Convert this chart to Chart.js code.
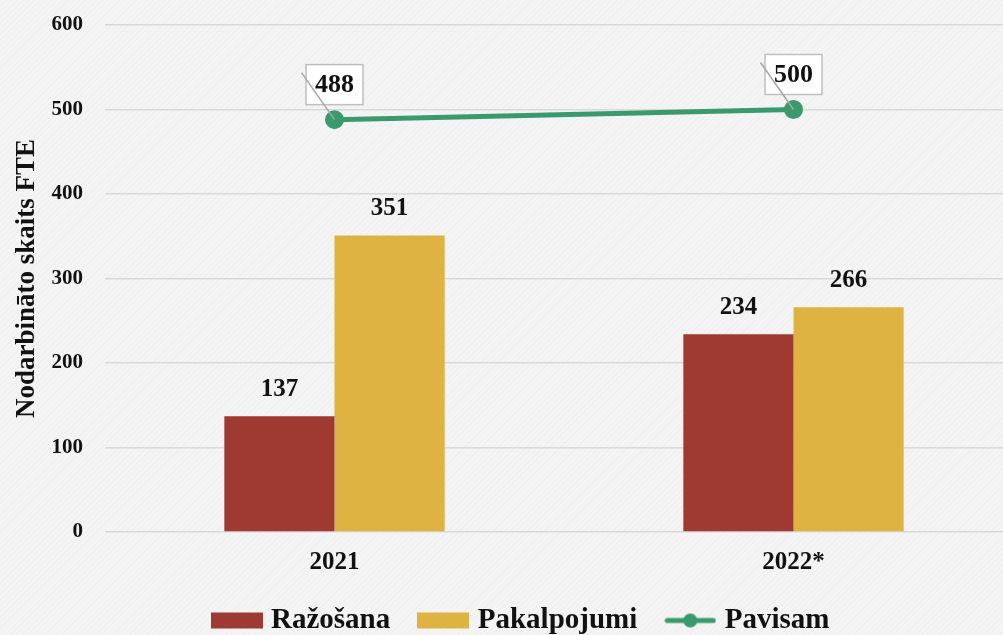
<!DOCTYPE html>
<html>
<head>
<meta charset="utf-8">
<script src="https://cdn.jsdelivr.net/npm/chart.js@4"></script>
<style>
  html, body { margin: 0; padding: 0; overflow: hidden; }
  body {
    width: 1003px; height: 635px;
    background-color: #f4f4f4;
    background-image: repeating-linear-gradient(135deg, rgba(0,0,0,0.018) 0 1px, transparent 1px 4px);
  }
  #wrap { width: 1035px; height: 635px; position: relative; }
</style>
</head>
<body>
<div id="wrap"><canvas id="grafiks"></canvas></div>
<script>
const kategorijas = ['2021', '2022*'];
const razosana = [137, 234];
const pakalpojumi = [351, 266];
const pavisam = [488, 500];
const asuTicks = [0, 100, 200, 300, 400, 500, 600];

const krasas = ['#9f3a33', '#dfb341', '#3a9a6c'];
const fonts = '"Liberation Serif", "DejaVu Serif", serif';

// leģendas zīmes kā mazi kanvasi
function leguZime(tips, krasa) {
    const c = document.createElement('canvas');
    c.width = 52; c.height = 18;
    const g = c.getContext('2d');
    g.fillStyle = krasa;
    g.strokeStyle = krasa;
    if (tips === 'bar') {
        g.fillRect(0, 1, 52, 16);
    } else {
        g.lineWidth = 5;
        g.lineCap = 'round';
        g.beginPath(); g.moveTo(3, 9); g.lineTo(49, 9); g.stroke();
        g.beginPath(); g.arc(26, 9, 7, 0, Math.PI * 2); g.fill();
    }
    return c;
}

// vērtību etiķetes virs stabiņiem un kastītes līnijai
const etiketes = {
    id: 'etiketes',
    afterDatasetsDraw(chart) {
        const ctx = chart.ctx;
        ctx.save();
        ctx.textAlign = 'center';
        ctx.textBaseline = 'middle';
        ctx.font = 'bold 25px ' + fonts;
        [0, 1].forEach(di => {
            const meta = chart.getDatasetMeta(di);
            meta.data.forEach((bar, i) => {
                ctx.fillStyle = '#111';
                ctx.fillText(chart.data.datasets[di].data[i], bar.x, bar.y - 27);
            });
        });
        ctx.font = 'bold 26px ' + fonts;
        const meta = chart.getDatasetMeta(2);
        meta.data.forEach((pt, i) => {
            const cx = pt.x, cy = pt.y - 35;
            const w = 57, h = 40;
            ctx.fillStyle = '#ffffff';
            ctx.fillRect(cx - w / 2, cy - h / 2, w, h);
            ctx.strokeStyle = '#bfbfbf';
            ctx.lineWidth = 1.5;
            ctx.strokeRect(cx - w / 2, cy - h / 2, w, h);
            ctx.fillStyle = '#111';
            ctx.fillText(chart.data.datasets[2].data[i], cx, cy + 1);
            ctx.strokeStyle = '#a6a6a6';
            ctx.lineWidth = 1.5;
            ctx.beginPath();
            ctx.moveTo(pt.x - 33, pt.y - 47);
            ctx.lineTo(pt.x, pt.y);
            ctx.stroke();
        });
        ctx.restore();
    }
};

const ctx = document.getElementById('grafiks').getContext('2d');
new Chart(ctx, {
    data: {
        labels: kategorijas,
        datasets: [
            {
                type: 'bar',
                label: 'Ražošana',
                data: razosana,
                backgroundColor: krasas[0],
                categoryPercentage: 0.48,
                barPercentage: 1,
                order: 2
            },
            {
                type: 'bar',
                label: 'Pakalpojumi',
                data: pakalpojumi,
                backgroundColor: krasas[1],
                categoryPercentage: 0.48,
                barPercentage: 1,
                order: 2
            },
            {
                type: 'line',
                label: 'Pavisam',
                data: pavisam,
                borderColor: krasas[2],
                backgroundColor: krasas[2],
                borderWidth: 5,
                pointRadius: 7,
                pointHoverRadius: 7,
                order: 1
            }
        ]
    },
    options: {
        responsive: true,
        maintainAspectRatio: false,
        animation: false,
        layout: { padding: { top: 0, left: 11, right: 0, bottom: 0 } },
        plugins: {
            tooltip: { enabled: false },
            legend: {
                position: 'bottom',
                maxHeight: 62,
                labels: {
                    font: { family: fonts, size: 29, weight: 'bold' },
                    color: '#111',
                    usePointStyle: true,
                    pointStyleWidth: 40,
                    padding: 33,
                    sort: (a, b) => a.datasetIndex - b.datasetIndex,
                    generateLabels(chart) {
                        const items = Chart.defaults.plugins.legend.labels.generateLabels(chart);
                        items.forEach(it => {
                            it.pointStyle = leguZime(it.datasetIndex === 2 ? 'line' : 'bar', krasas[it.datasetIndex]);
                            it.lineWidth = 0;
                        });
                        return items;
                    }
                }
            }
        },
        scales: {
            x: {
                grid: { display: false, drawTicks: false },
                border: { display: false },
                ticks: { font: { family: fonts, size: 25, weight: 'bold' }, color: '#111', padding: 16 },
                afterFit(axis) { axis.height = 41; }
            },
            y: {
                min: 0,
                max: 600,
                afterBuildTicks(axis) { axis.ticks = asuTicks.map(v => ({ value: v })); },
                afterFit(axis) { axis.width = 94; axis.paddingTop = 25; },
                grid: { color: '#d9d9d9', lineWidth: 1.5, drawTicks: false },
                border: { display: false },
                ticks: { font: { family: fonts, size: 21, weight: 'bold' }, color: '#111', padding: 22 },
                title: {
                    display: true,
                    text: 'Nodarbināto skaits FTE',
                    font: { family: fonts, size: 27, weight: 'bold' },
                    color: '#111',
                    padding: { top: 0, bottom: 4 }
                }
            }
        }
    },
    plugins: [etiketes]
});
</script>
</body>
</html>
